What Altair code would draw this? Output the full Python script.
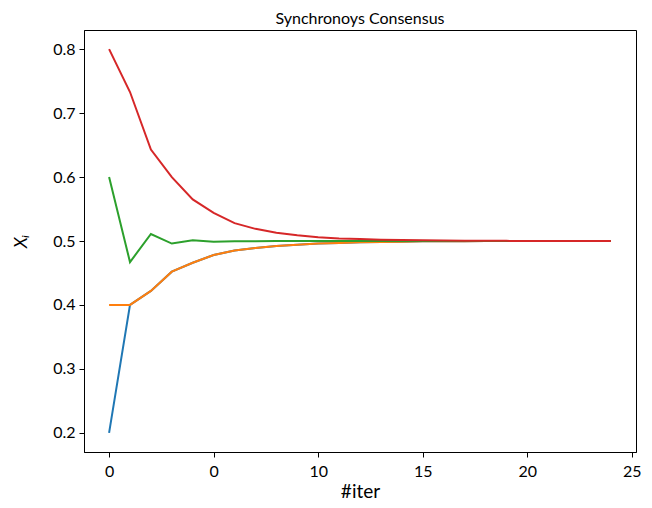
import altair as alt
import pandas as pd

iters = list(range(25))
blue = [0.2, 0.4, 0.422, 0.452, 0.466, 0.478, 0.485, 0.489, 0.492, 0.494, 0.496, 0.497, 0.498,
        0.4985, 0.499, 0.4995, 0.4997, 0.4998, 0.4999, 0.5, 0.5, 0.5, 0.5, 0.5, 0.5]
orange = [0.4, 0.4, 0.422, 0.452, 0.466, 0.478, 0.485, 0.489, 0.492, 0.494, 0.496, 0.497, 0.498,
          0.4985, 0.499, 0.4995, 0.4997, 0.4998, 0.4999, 0.5, 0.5, 0.5, 0.5, 0.5, 0.5]
green = [0.6, 0.467, 0.511, 0.496, 0.501, 0.499, 0.4995, 0.4998, 0.5, 0.5, 0.5, 0.5, 0.5,
         0.5, 0.5, 0.5, 0.5, 0.5, 0.5, 0.5, 0.5, 0.5, 0.5, 0.5, 0.5]
red = [0.8, 0.733, 0.643, 0.600, 0.565, 0.544, 0.528, 0.519, 0.513, 0.509, 0.506, 0.504, 0.503,
       0.502, 0.5015, 0.501, 0.5007, 0.5005, 0.5003, 0.5002, 0.5001, 0.5, 0.5, 0.5, 0.5]

series = {"x1": blue, "x2": orange, "x3": green, "x4": red}
colors = ["#1f77b4", "#ff7f0e", "#2ca02c", "#d62728"]
x_ticks = [0, 5, 10, 15, 20, 25]
y_ticks = [0.2, 0.3, 0.4, 0.5, 0.6, 0.7, 0.8]

rows = []
for name, vals in series.items():
    for i, v in zip(iters, vals):
        rows.append({"iter": i, "value": v, "node": name})
df = pd.DataFrame(rows)

FONT = "Lato"

chart = alt.Chart(df).mark_line(strokeWidth=2).encode(
    x=alt.X("iter:Q", scale=alt.Scale(domain=[-1.2, 25.2], nice=False, zero=False),
            axis=alt.Axis(title="#iter", values=x_ticks, grid=False, tickSize=5,
                          labelExpr="datum.value == 5 ? '0' : datum.label",
                          labelFontSize=16, titleFontSize=19, labelPadding=6, titlePadding=3)),
    y=alt.Y("value:Q", scale=alt.Scale(domain=[0.17, 0.83], nice=False, zero=False),
            axis=alt.Axis(title="Xᵢ", values=y_ticks, format=".1f", grid=False, tickSize=5,
                          labelFontSize=16, titleFontSize=18, titleFontStyle="italic",
                          titleFontWeight="normal", labelPadding=4, titlePadding=22)),
    color=alt.Color("node:N", scale=alt.Scale(domain=list(series.keys()), range=colors), legend=None),
    order=alt.Order("iter:Q"),
).properties(
    width=552, height=422,
    title=alt.TitleParams("Synchronoys Consensus", fontSize=16, fontWeight="normal", font=FONT, offset=3),
    autosize=alt.AutoSizeParams(type="none"),
    padding={"left": 76, "top": 22, "right": 8, "bottom": 48},
).configure_view(
    stroke="black", strokeWidth=1
).configure_axis(
    labelFont=FONT, titleFont=FONT, domainColor="black", tickColor="black",
    labelColor="black", titleColor="black", titleFontWeight="normal"
)

chart.save("out.html", embed_options={"renderer": "svg", "actions": False})
